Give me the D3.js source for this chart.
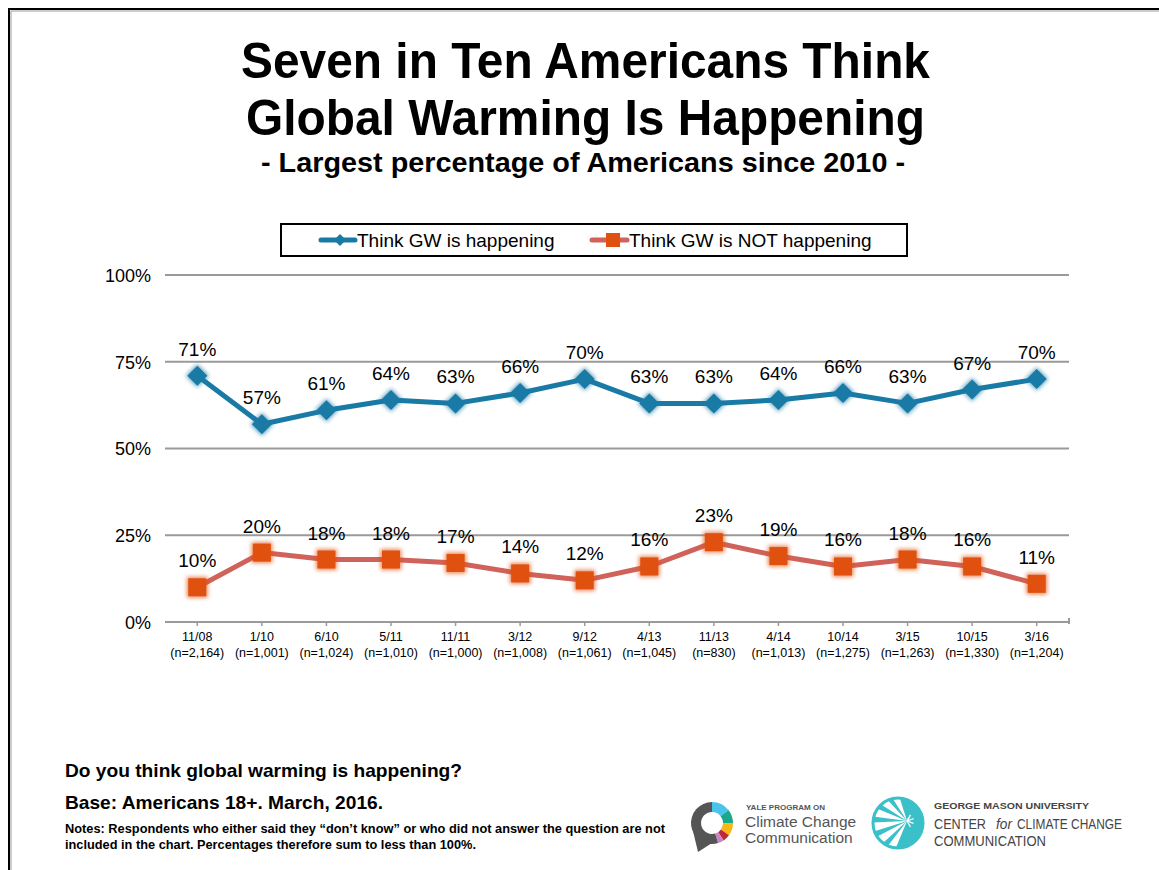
<!DOCTYPE html>
<html><head><meta charset="utf-8">
<script src="https://cdn.jsdelivr.net/npm/d3@7"></script>
<style>body{margin:0;background:#fff}svg{display:block;font-family:"Liberation Sans",Arial,sans-serif}</style>
</head><body>
<script>
const dates = ["11/08","1/10","6/10","5/11","11/11","3/12","9/12","4/13","11/13","4/14","10/14","3/15","10/15","3/16"];
const sampleN = ["2,164","1,001","1,024","1,010","1,000","1,008","1,061","1,045","830","1,013","1,275","1,263","1,330","1,204"];
const happening = [71,57,61,64,63,66,70,63,63,64,66,63,67,70];
const notHappening = [10,20,18,18,17,14,12,16,23,19,16,18,16,11];
const yTicks = [0,25,50,75,100];
const seriesNames = ["Think GW is happening","Think GW is NOT happening"];

const W = 1159, H = 870;
const NARROW = '"Liberation Sans Narrow","Liberation Sans",Arial,sans-serif';
const svg = d3.select("body").append("svg").attr("width", W).attr("height", H);
const defs = svg.append("defs");
const f = defs.append("filter").attr("id","soft").attr("x","-50%").attr("y","-50%").attr("width","200%").attr("height","200%");
f.append("feGaussianBlur").attr("stdDeviation",2);

function fit(t, len){ return t.attr("textLength",len).attr("lengthAdjust","spacingAndGlyphs"); }

// frame
svg.append("path").attr("d", `M9,870 V9 H1159`).attr("fill","none").attr("stroke","#000").attr("stroke-width",2);
svg.append("path").attr("d", `M11,870 V11 H1159`).attr("fill","none").attr("stroke","#999").attr("stroke-width",1);

// titles
const title = svg.append("g").attr("font-weight","bold").attr("fill","#000").attr("font-family",NARROW);
fit(title.append("text").attr("x",241).attr("y",78).attr("font-size",50).text("Seven in Ten Americans Think"),689);
fit(title.append("text").attr("x",246).attr("y",135).attr("font-size",50).text("Global Warming Is Happening"),679);
fit(title.append("text").attr("x",261).attr("y",172).attr("font-size",27).text("- Largest percentage of Americans since 2010 -"),644);

// scales
const x = d3.scaleBand().domain(dates).range([165,1069]);
const y = d3.scaleLinear().domain([0,100]).range([622,275]);
const cx = d => x(d) + x.bandwidth()/2;

// grid
svg.append("g").selectAll("line").data(yTicks).join("line")
  .attr("x1",165).attr("x2",1069).attr("y1",d=>y(d)).attr("y2",d=>y(d))
  .attr("stroke","#9a9a9a").attr("stroke-width",2);

// y axis labels
const yAxis = svg.append("g").attr("transform","translate(151,0)")
  .call(d3.axisLeft(y).tickValues(yTicks).tickSize(0).tickPadding(0).tickFormat(d=>d+"%"));
yAxis.select(".domain").remove();
yAxis.selectAll("text").attr("font-size",18).attr("font-family","Liberation Sans, Arial, sans-serif").attr("fill","#000").attr("dy","0.35em");

// x axis
const xAxis = svg.append("g").attr("transform","translate(0,622)")
  .call(d3.axisBottom(x).tickSize(4).tickPadding(5).tickFormat(""));
xAxis.select(".domain").remove();
xAxis.selectAll(".tick line").attr("stroke","#9a9a9a").attr("stroke-width",1.5);
const xl = svg.append("g").attr("text-anchor","middle").attr("font-size",12.5).attr("fill","#000");
dates.forEach((d,i)=>{
  xl.append("text").attr("x",cx(d)).attr("y",641).text(d);
  xl.append("text").attr("x",cx(d)).attr("y",657).text("(n="+sampleN[i]+")");
});
svg.append("line").attr("x1",1069).attr("x2",1069).attr("y1",618).attr("y2",624).attr("stroke","#9a9a9a").attr("stroke-width",2);

const line = d3.line().x((d,i)=>cx(dates[i])).y(d=>y(d));
const diamond = "M0,-10L10,0L0,10L-10,0Z";
const square = "M-9,-9H9V9H-9Z";

function drawSeries(vals, lineColor, markerColor, shapePath){
  const g = svg.append("g");
  g.append("path").datum(vals).attr("d",line).attr("fill","none").attr("stroke",lineColor).attr("stroke-width",5).attr("stroke-linejoin","round");
  g.selectAll("path.glow").data(vals).join("path").attr("class","glow")
    .attr("d",shapePath).attr("transform",(d,i)=>`translate(${cx(dates[i])},${y(d)}) scale(1.15)`)
    .attr("fill",markerColor).attr("opacity",0.7).attr("filter","url(#soft)");
  g.selectAll("path.mk").data(vals).join("path").attr("class","mk")
    .attr("d",shapePath).attr("transform",(d,i)=>`translate(${cx(dates[i])},${y(d)})`)
    .attr("fill",markerColor);
  g.selectAll("text").data(vals).join("text")
    .attr("x",(d,i)=>cx(dates[i])).attr("y",d=>y(d)-20)
    .attr("text-anchor","middle").attr("font-size",19).attr("fill","#000").text(d=>d+"%");
}
drawSeries(happening,"#1a7aa6","#1a7aa6",diamond);
drawSeries(notHappening,"#d0625a","#e0500e",square);

// legend
const lg = svg.append("g");
lg.append("rect").attr("x",281).attr("y",224).attr("width",626).attr("height",32).attr("fill","#fff").attr("stroke","#000").attr("stroke-width",2);
lg.append("line").attr("x1",321).attr("x2",355).attr("y1",240).attr("y2",240).attr("stroke","#1a7aa6").attr("stroke-width",5).attr("stroke-linecap","round");
lg.append("path").attr("d","M0,-6L6,0L0,6L-6,0Z").attr("transform","translate(340,240)").attr("fill","#1a7aa6");
lg.append("text").attr("x",357).attr("y",247).attr("font-size",19).text(seriesNames[0]);
lg.append("line").attr("x1",592).attr("x2",627).attr("y1",240).attr("y2",240).attr("stroke","#d0625a").attr("stroke-width",5).attr("stroke-linecap","round");
lg.append("rect").attr("x",606).attr("y",233).attr("width",14).attr("height",14).attr("fill","#e0500e");
lg.append("text").attr("x",629).attr("y",247).attr("font-size",19).text(seriesNames[1]);

// bottom text
const bt = svg.append("g").attr("font-weight","bold").attr("fill","#000").attr("font-family",NARROW);
fit(bt.append("text").attr("x",65).attr("y",777).attr("font-size",18.5).text("Do you think global warming is happening?"),397);
fit(bt.append("text").attr("x",65).attr("y",809).attr("font-size",18.5).text("Base: Americans 18+. March, 2016."),318);
fit(bt.append("text").attr("x",65).attr("y",833).attr("font-size",12.5).text("Notes: Respondents who either said they \u201cdon\u2019t know\u201d or who did not answer the question are not"),600);
fit(bt.append("text").attr("x",65).attr("y",849).attr("font-size",12.5).text("included in the chart. Percentages therefore sum to less than 100%."),411);

// Yale logo
const yl = svg.append("g").attr("transform","translate(712,823)");
const arc = d3.arc().innerRadius(11).outerRadius(21);
const segs = [
  {s:0,e:0.9,c:"#4cc3ea"},{s:0.9,e:1.6,c:"#1aa88a"},{s:1.6,e:2.2,c:"#f5b817"},
  {s:2.2,e:2.55,c:"#c0263a"},{s:2.55,e:2.85,c:"#c886c0"},{s:2.85,e:2*Math.PI,c:"#555"}
];
segs.forEach(s=>yl.append("path").attr("d",arc({startAngle:s.s,endAngle:s.e})).attr("fill",s.c));
yl.append("path").attr("d","M-19,8 L-14,29 L0,20 Z").attr("fill","#555");
const yt = svg.append("g").attr("fill","#555");
fit(yt.append("text").attr("x",746).attr("y",810).attr("font-size",7.5).attr("font-weight","bold").text("YALE PROGRAM ON"),79);
yt.append("text").attr("x",745).attr("y",827).attr("font-size",15.5).text("Climate Change");
yt.append("text").attr("x",745).attr("y",843).attr("font-size",15.5).text("Communication");

// GMU logo
const gm = svg.append("g").attr("transform","translate(898,823)");
gm.append("circle").attr("r",25).attr("fill","#3bbfc9");
const ox=9, oy=-2;
[120,145,170,195,220,245].forEach(a=>{
  const r=a*Math.PI/180;
  gm.append("path").attr("d",`M${ox},${oy}L${ox+34*Math.cos(r-0.13)},${oy+34*Math.sin(r-0.13)}L${ox+34*Math.cos(r+0.13)},${oy+34*Math.sin(r+0.13)}Z`).attr("fill","#fff");
});
[-60,-20,20,60,300].forEach(a=>{
  const r=a*Math.PI/180;
  gm.append("line").attr("x1",ox).attr("y1",oy).attr("x2",ox+7*Math.cos(r)).attr("y2",oy+7*Math.sin(r)).attr("stroke","#fff").attr("stroke-width",1.2);
});
gm.append("circle").attr("r",25).attr("fill","none").attr("stroke","#3bbfc9").attr("stroke-width",3);
const gt = svg.append("g").attr("fill","#444").attr("font-family",NARROW);
fit(gt.append("text").attr("x",934).attr("y",809).attr("font-size",9).attr("font-weight","bold").text("GEORGE MASON UNIVERSITY"),155);
fit(gt.append("text").attr("x",934).attr("y",829).attr("font-size",15).text("CENTER"),52);
fit(gt.append("text").attr("x",996).attr("y",829).attr("font-size",15).attr("font-style","italic").text("for"),16);
fit(gt.append("text").attr("x",1017).attr("y",829).attr("font-size",15).text("CLIMATE CHANGE"),105);
fit(gt.append("text").attr("x",934).attr("y",846).attr("font-size",15).text("COMMUNICATION"),112);
</script>
</body></html>
